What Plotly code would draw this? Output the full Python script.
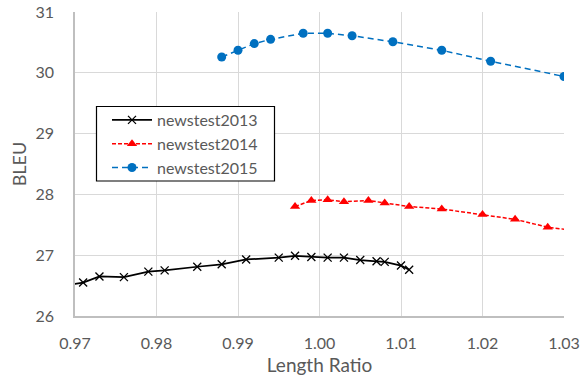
import plotly.graph_objects as go

x2013 = [0.968, 0.971, 0.973, 0.976, 0.979, 0.981, 0.985, 0.988, 0.991, 0.995, 0.997, 0.999, 1.001, 1.003, 1.005, 1.007, 1.008, 1.010, 1.011]
y2013 = [26.48, 26.55, 26.65, 26.64, 26.73, 26.75, 26.81, 26.85, 26.93, 26.96, 26.99, 26.97, 26.96, 26.96, 26.92, 26.90, 26.89, 26.83, 26.76]

x2014 = [0.997, 0.999, 1.001, 1.003, 1.006, 1.008, 1.011, 1.015, 1.020, 1.024, 1.028, 1.033]
y2014 = [27.80, 27.90, 27.91, 27.88, 27.90, 27.86, 27.80, 27.76, 27.67, 27.59, 27.46, 27.38]

x2015 = [0.988, 0.990, 0.992, 0.994, 0.998, 1.001, 1.004, 1.009, 1.015, 1.021, 1.030]
y2015 = [30.26, 30.37, 30.48, 30.55, 30.65, 30.65, 30.61, 30.51, 30.37, 30.19, 29.94]

xticks = [0.97, 0.98, 0.99, 1.00, 1.01, 1.02, 1.03]
yticks = [26, 27, 28, 29, 30, 31]

font = "Lato, 'Open Sans', sans-serif"

fig = go.Figure()
fig.add_trace(go.Scatter(
    x=x2013, y=y2013, name="newstest2013", mode="lines+markers",
    line=dict(color="black", width=1.75),
    marker=dict(symbol="x-thin", size=8, color="black", line=dict(color="black", width=1.3)),
))
fig.add_trace(go.Scatter(
    x=x2014, y=y2014, name="newstest2014", mode="lines+markers",
    line=dict(color="#FF0000", width=1.5, dash="4px,2px"),
    marker=dict(symbol="triangle-up", size=9, color="#FF0000"),
))
fig.add_trace(go.Scatter(
    x=x2015, y=y2015, name="newstest2015", mode="lines+markers",
    line=dict(color="#0070C0", width=1.5, dash="6px,4px"),
    marker=dict(symbol="circle", size=9, color="#0070C0"),
))

# legend frame (plot area: x 75..564, y 12..316)
fig.add_shape(type="rect", xref="paper", yref="paper",
              x0=(96.5 - 75) / 489, x1=(274.5 - 75) / 489,
              y0=(316 - 181) / 304, y1=(316 - 106.5) / 304,
              line=dict(color="black", width=1.2), fillcolor="white", layer="above")

fig.update_layout(
    width=585, height=378,
    margin=dict(l=75, r=21, t=12, b=62),
    paper_bgcolor="white", plot_bgcolor="white",
    font=dict(family=font, size=16, color="#595959"),
    showlegend=True,
    legend=dict(
        x=(107 - 75) / 489, y=(316 - 103) / 304, xanchor="left", yanchor="top",
        borderwidth=0, bgcolor="rgba(0,0,0,0)",
        font=dict(size=16, color="#595959"),
        tracegroupgap=3, itemwidth=40,
    ),
    xaxis=dict(
        range=[0.97, 1.03], tickvals=xticks, ticktext=[f"{v:.2f}" for v in xticks],
        showgrid=True, gridcolor="#D9D9D9", gridwidth=1,
        showline=True, linecolor="#BFBFBF", linewidth=1.5,
        zeroline=False, ticks="outside", ticklen=12, tickcolor="rgba(0,0,0,0)",
        automargin=False,
        title=dict(text="Length Ratio", font=dict(size=19, color="#595959"), standoff=8),
        tickfont=dict(size=16, color="#595959"),
    ),
    yaxis=dict(
        range=[26, 31], tickvals=yticks,
        showgrid=True, gridcolor="#D9D9D9", gridwidth=1,
        showline=True, linecolor="#BFBFBF", linewidth=1.5,
        zeroline=False, ticks="outside", ticklen=16, tickcolor="rgba(0,0,0,0)",
        automargin=False,
        title=dict(text="BLEU", font=dict(size=18, color="#595959"), standoff=4),
        tickfont=dict(size=16, color="#595959"),
    ),
)

fig.write_html("out.html", config={"displayModeBar": False},
               post_script="document.body.style.margin='0';")
